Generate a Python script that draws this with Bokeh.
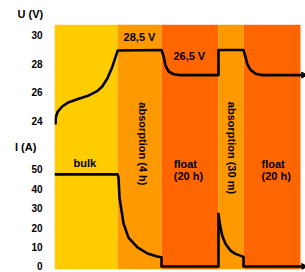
import numpy as np
from bokeh.plotting import figure
from bokeh.models import Range1d, LinearAxis, FixedTicker, BoxAnnotation, Title
from bokeh.embed import file_html
from bokeh.resources import INLINE
from bokeh.core.properties import value

# ---- data ----
stage_names = ["bulk", "absorption (4 h)", "float (20 h)", "absorption (30 m)", "float (20 h)"]
stage_edges = [0, 63, 107, 164, 189, 246]
stage_colors = ["#FFCC00", "#FF9900", "#FF6600", "#FF9900", "#FF6600"]

volt_t = [1, 1.3, 3.3, 7.7, 14.3, 24.3, 34.3, 42.7, 47.7, 52.7, 57.7, 61, 63.3,
          107, 109.3, 111, 114.3, 119.3, 126, 164, 164, 189, 191, 192.7, 196, 201, 207.7, 247]
volt_v = [23.75, 24.26, 24.66, 25.01, 25.31, 25.55, 25.78, 26.08, 26.41, 26.94, 27.75, 28.45, 28.92,
          28.95, 28.45, 27.87, 27.45, 27.26, 27.2, 27.2, 28.95, 28.95, 28.45, 27.99, 27.57, 27.29, 27.2, 27.2]

curr_t = [0, 63, 64, 65, 67, 69, 74, 83, 93, 102.7, 107, 107, 164, 164, 165.3, 167.7, 171, 176, 181, 187.7, 189, 189, 247]
curr_a = [47.5, 47.5, 45.9, 35.6, 28.9, 22.2, 14.9, 9.8, 6.7, 5.2, 4.8, 0, 0, 27.2, 22.0, 16.0, 11.7, 8.2, 6.5, 5.2, 4.9, 0, 0]

volt_ticks = [24, 26, 28, 30]
curr_ticks = [0, 10, 20, 30, 40, 50]
volt_notes = ["28,5 V", "26,5 V"]
axis_titles = ["U (V)", "I (A)"]

FONT = value("Liberation Sans")
V_LO, V_HI = 13.64, 30.73
A_LO, A_HI = -1.55, 124.74

p = figure(width=305, height=272, x_range=Range1d(0, 251), y_range=Range1d(V_LO, V_HI),
           output_backend="svg", toolbar_location=None, x_axis_location=None, y_axis_location=None,
           min_border_left=54, min_border_right=0, min_border_top=24, min_border_bottom=3)
p.extra_y_ranges = {"amp": Range1d(A_LO, A_HI)}
p.outline_line_color = None
p.xgrid.visible = False
p.ygrid.visible = False
p.background_fill_color = "white"
p.border_fill_color = "white"

# stage backgrounds
for i, c in enumerate(stage_colors):
    p.add_layout(BoxAnnotation(left=stage_edges[i], right=stage_edges[i + 1], fill_color=c,
                               fill_alpha=1, line_color=None, level="underlay"))

# axis: voltage ticks on main range, current ticks mapped from the current range
amp_pos = [V_LO + (a - A_LO) / (A_HI - A_LO) * (V_HI - V_LO) for a in curr_ticks]
ticks = [float(v) for v in volt_ticks] + amp_pos
overrides = {float(v): str(v) for v in volt_ticks}
overrides.update({pos: str(a) for pos, a in zip(amp_pos, curr_ticks)})
ax = LinearAxis(ticker=FixedTicker(ticks=ticks), major_label_overrides=overrides)
ax.axis_line_color = None
ax.major_tick_line_color = None
ax.minor_tick_line_color = None
ax.major_tick_out = 0
ax.major_tick_in = 0
ax.major_label_standoff = 12
ax.major_label_text_font = "Liberation Sans"
ax.major_label_text_font_style = "bold"
ax.major_label_text_font_size = "10px"
ax.major_label_text_color = "black"
ax.axis_label = axis_titles[1]
ax.axis_label_orientation = "horizontal"
ax.axis_label_standoff = -8
ax.axis_label_text_font = "Liberation Sans"
ax.axis_label_text_font_style = "bold"
ax.axis_label_text_font_size = "11px"
ax.axis_label_text_color = "black"
p.add_layout(ax, "left")

# voltage axis title above the frame
p.add_layout(Title(text=axis_titles[0], align="left", offset=-37, text_font="Liberation Sans",
                   text_font_style="bold", text_font_size="11px", text_color="black"), "above")

# curves
p.line(volt_t, volt_v, line_color="black", line_width=2.6, line_join="round")
p.line(curr_t, curr_a, line_color="black", line_width=2.6, line_join="round", y_range_name="amp")
p.scatter([249], [volt_v[-1]], marker="triangle", angle=-np.pi / 2, size=6, color="black")
p.scatter([249], [curr_a[-1]], marker="triangle", angle=-np.pi / 2, size=6, color="black", y_range_name="amp")

common = dict(text_font=FONT, text_font_style="bold", text_font_size="11px", text_color="black")
# voltage notes
p.text(x=[85, 134.8], y=[29.85, 28.52], text=volt_notes, text_align="center",
       text_baseline="alphabetic", **common)
# bulk / float labels
p.text(x=[19], y=[53.2], text=[stage_names[0]], text_align="left", text_baseline="alphabetic",
       y_range_name="amp", **common)
fl = [stage_names[2].split(" ", 1), stage_names[4].split(" ", 1)]
p.text(x=[119.3, 207], y=[52.9, 52.9], text=[fl[0][0], fl[1][0]], text_align="left",
       text_baseline="alphabetic", y_range_name="amp", **common)
p.text(x=[119.3, 207], y=[46.8, 46.8], text=[fl[0][1], fl[1][1]], text_align="left",
       text_baseline="alphabetic", y_range_name="amp", **common)
# absorption labels (vertical)
p.text(x=[88.5, 177.2], y=[63.2, 61.1], text=[stage_names[1], stage_names[3]], angle=-np.pi / 2,
       text_align="center", text_baseline="middle", y_range_name="amp", **common)

open("out.html", "w").write(file_html(p, INLINE))
